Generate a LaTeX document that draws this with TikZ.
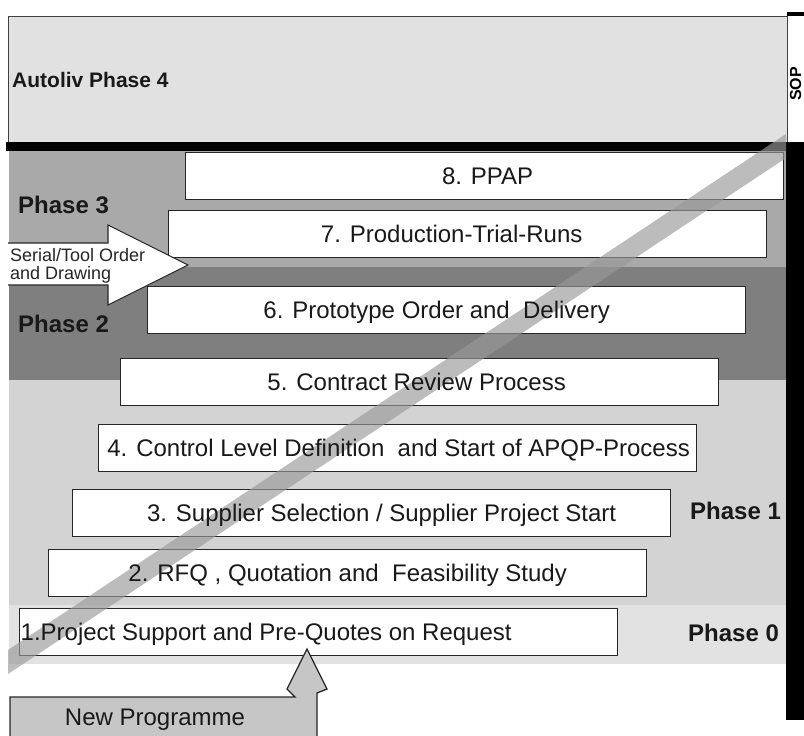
\documentclass[tikz,border=0pt]{standalone}
\usepackage{fontspec}
\setmainfont{Liberation Sans}
\definecolor{PhaseFour}{HTML}{E1E1E1}
\definecolor{PhaseThree}{HTML}{A9A9A9}
\definecolor{PhaseTwo}{HTML}{7F7F7F}
\definecolor{PhaseOne}{HTML}{D3D3D3}
\definecolor{PhaseZero}{HTML}{E2E2E2}
\definecolor{StripeGray}{HTML}{999999}
\definecolor{ProgGray}{HTML}{C6C6C6}
\usetikzlibrary{positioning}

\begin{document}
\begin{tikzpicture}[x=1pt, y=-1pt,
  procbox/.style={draw=black!85, fill=white, line width=1.3pt, anchor=north west,
    minimum width=598pt, minimum height=47pt, inner sep=0pt},
  proclabel/.style={font=\fontsize{24}{26}\selectfont, text=black!90,
    inner sep=0pt, text height=17.2pt, text depth=0pt},
  phaselabel/.style={font=\fontsize{24}{26}\selectfont\bfseries, text=black!90,
    anchor=west, inner sep=0pt, text height=17.2pt, text depth=0pt}]
  \useasboundingbox (0,0) rectangle (804,736);
  % Phase bands
  \fill[PhaseThree] (9,150) rectangle (786,267);
  \fill[PhaseTwo] (9,267) rectangle (786,380);
  \fill[PhaseOne] (9,380) rectangle (786,605);
  \fill[PhaseZero] (9,605) rectangle (786,664);
  % Phase 4 and SOP
  \draw[fill=PhaseFour, draw=black!75, line width=1pt] (8,16) rectangle (787,142);
  \fill[black] (6,142) rectangle (787,151);
  \fill[black] (786,142) rectangle (804,720);
  \fill[black] (787,12) rectangle (804,16);
  \node[rotate=90, inner sep=0pt, text height=11pt, text depth=0pt,
    font=\fontsize{16}{16}\selectfont\bfseries] (sop) at (795.5,84) {SOP};
  \node[phaselabel, font=\fontsize{21}{24}\selectfont\bfseries, text height=15pt] (autoliv) at (12,80) {Autoliv Phase 4};
  % Process steps
  \foreach \n/\x/\y in {8/185/152, 7/168/210, 6/147/286, 5/120/358,
                        4/98/424, 3/72/489, 2/48/549, 1/19/608}
    \node[procbox] (box\n) at (\x,\y) {};
  % Diagonal stripe
  \fill[StripeGray, opacity=0.65] (8,650) -- (786,134) -- (786,158) -- (8,674) -- cycle;
  \node[proclabel] (lab8) at ([xshift=3pt]box8.center) {8. PPAP};
  \node[proclabel] (lab7) at ([xshift=-16pt]box7.center) {7. Production-Trial-Runs};
  \node[proclabel] (lab6) at ([xshift=-10pt]box6.center) {6. Prototype Order and\ \ Delivery};
  \node[proclabel] (lab5) at ([xshift=-3pt]box5.center) {5. Contract Review Process};
  \node[proclabel] (lab4) at ([xshift=1pt]box4.center) {4. Control Level Definition\ \ and Start of APQP-Process};
  \node[proclabel] (lab3) at ([xshift=10pt]box3.center) {3. Supplier Selection / Supplier Project Start};
  \node[proclabel] (lab2) at (box2.center) {2. RFQ , Quotation and\ \ Feasibility Study};
  \node[proclabel, anchor=west] (lab1) at ([xshift=1.5pt]box1.west) {1.Project Support and Pre-Quotes on Request};
  % Phase labels
  \node[phaselabel] (phase3) at (18,205) {Phase 3};
  \node[phaselabel] (phase2) at (18,324) {Phase 2};
  \node[phaselabel] (phase1) at (690,511) {Phase 1};
  \node[phaselabel] (phase0) at (688,633) {Phase 0};
  % Serial/Tool order arrow
  \filldraw[fill=white, draw=black!85, line width=1.1pt]
    (8,243) -- (108,243) -- (108,225) -- (188,265) -- (108,305) -- (108,285) -- (8,285);
  \node[anchor=west, align=left, inner sep=0pt, text=black!85,
    font=\fontsize{18}{17.5}\selectfont] (serial) at (10,266) {Serial/Tool Order\\and Drawing};
  % New programme arrow
  \filldraw[fill=ProgGray, draw=black!85, line width=1.3pt]
    (10,740) -- (10,697) -- (295,697) -- (287,689) -- (307,649) -- (327,689) -- (317,693) -- (317,740);
  \node[proclabel] (newprog) at (155,717) {New Programme};
\end{tikzpicture}
\end{document}
